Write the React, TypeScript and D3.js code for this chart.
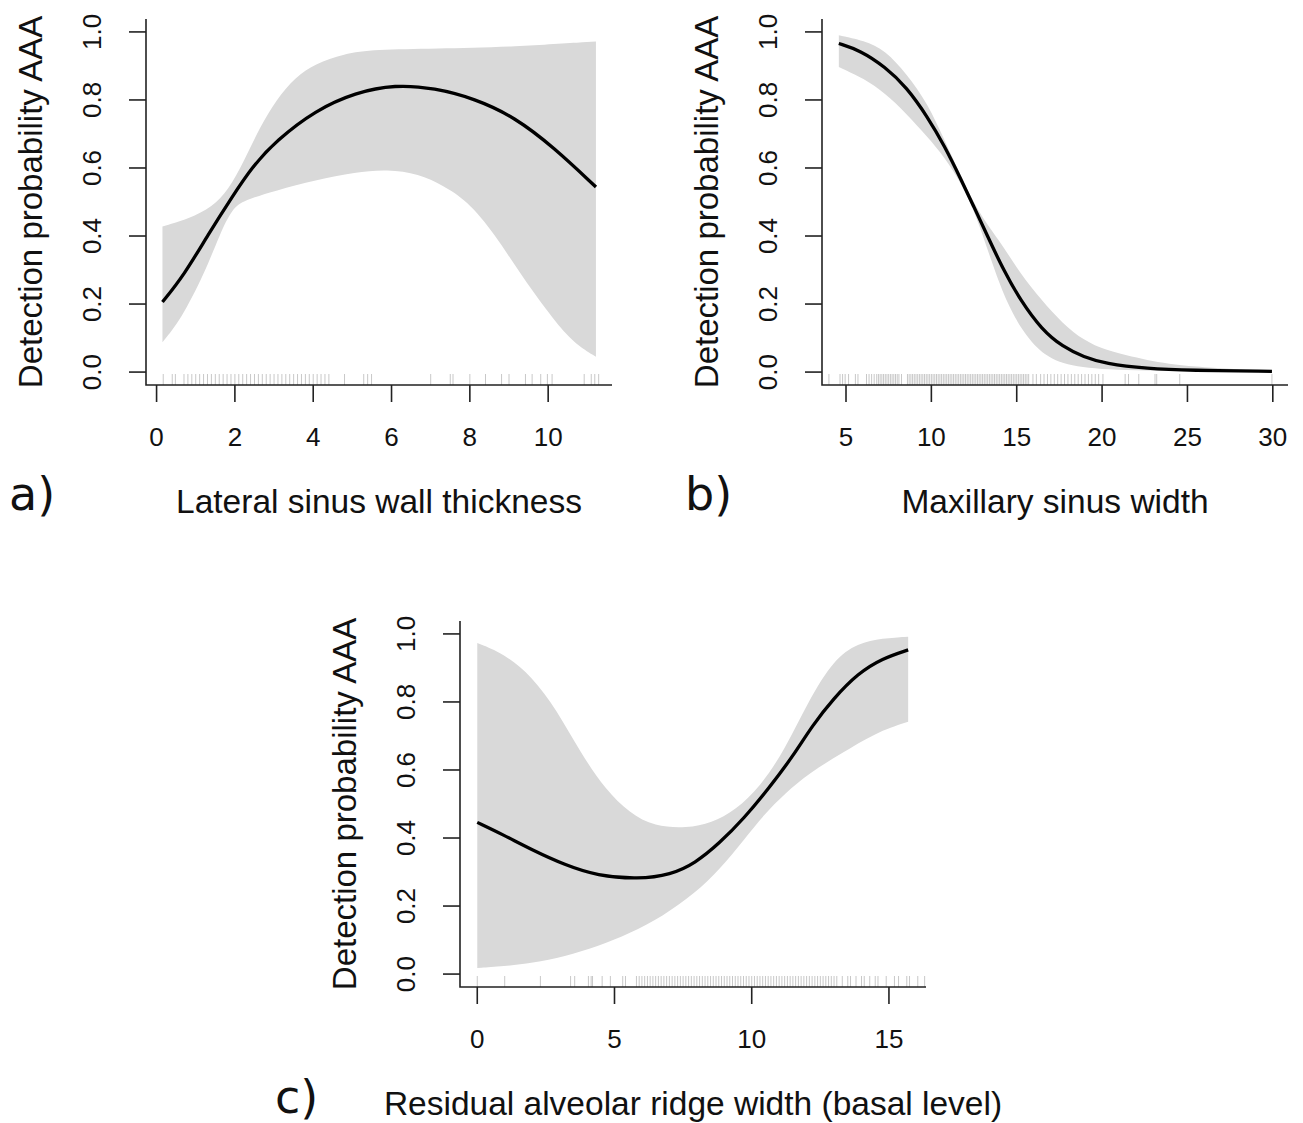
import React from 'react'
import * as d3 from 'd3'

// a) lateral sinus wall thickness  [x, probability]
const aFit = [[0.15, 0.206], [0.7, 0.285], [1.32, 0.405], [1.93, 0.515], [2.44, 0.603], [3.05, 0.68], [4.06, 0.77], [5.08, 0.822], [6.09, 0.845], [7.1, 0.835], [8.12, 0.804], [9.14, 0.75], [10.15, 0.66], [11.22, 0.544]]
const aUpper = [[0.15, 0.428], [0.81, 0.45], [1.42, 0.485], [1.83, 0.534], [2.23, 0.62], [2.64, 0.72], [3.05, 0.8], [3.55, 0.868], [4.06, 0.907], [4.77, 0.936], [5.58, 0.948], [7.1, 0.951], [9.14, 0.956], [11.22, 0.972]]
const aLower = [[0.15, 0.088], [0.61, 0.152], [1.22, 0.289], [1.62, 0.407], [1.93, 0.48], [2.23, 0.505], [3.05, 0.534], [4.06, 0.564], [5.08, 0.588], [5.89, 0.596], [6.7, 0.583], [7.31, 0.549], [7.92, 0.505], [8.63, 0.407], [9.34, 0.279], [10.15, 0.152], [10.66, 0.085], [11.22, 0.045]]
const aRug = [0.17, 0.4, 0.48, 0.7, 0.8, 0.9, 1.0, 1.1, 1.2, 1.3, 1.4, 1.5, 1.6, 1.7, 1.8, 1.9, 2.0, 2.1, 2.2, 2.3, 2.4, 2.5, 2.6, 2.7, 2.8, 2.9, 3.0, 3.1, 3.2, 3.3, 3.4, 3.5, 3.6, 3.7, 3.8, 3.9, 4.0, 4.1, 4.2, 4.3, 4.4, 4.8, 5.29, 5.39, 5.49, 7.0, 7.5, 7.57, 8.0, 8.4, 8.81, 9.0, 9.42, 9.59, 9.81, 9.98, 10.1, 10.92, 11.1, 11.19, 11.29]
const aTicks = [0, 2, 4, 6, 8, 10]

// b) maxillary sinus width
const bFit = [[4.58, 0.966], [5.82, 0.946], [7.3, 0.897], [8.54, 0.838], [9.78, 0.75], [10.77, 0.665], [11.76, 0.564], [12.5, 0.485], [13.24, 0.405], [14.23, 0.299], [15.22, 0.211], [16.46, 0.125], [17.7, 0.074], [18.94, 0.044], [20.17, 0.025], [22.65, 0.01], [25.12, 0.005], [29.95, 0.002]]
const bUpper = [[4.58, 0.99], [6.06, 0.975], [7.3, 0.946], [8.54, 0.877], [9.78, 0.79], [10.77, 0.681], [11.76, 0.574], [12.5, 0.495], [13.24, 0.436], [14.23, 0.368], [15.22, 0.289], [16.46, 0.211], [17.7, 0.142], [18.94, 0.093], [20.17, 0.064], [22.65, 0.034], [25.12, 0.015], [29.95, 0.003]]
const bLower = [[4.58, 0.897], [6.06, 0.863], [7.3, 0.819], [8.54, 0.76], [9.78, 0.691], [10.77, 0.632], [11.76, 0.554], [12.5, 0.475], [13.24, 0.368], [13.98, 0.26], [14.73, 0.172], [15.72, 0.093], [16.96, 0.034], [18.94, 0.01], [22.65, 0.003], [29.95, 0.002]]
const bRug = [4.0, 4.65, 4.8, 4.95, 5.15, 5.55, 5.7, 6.2, 6.35, 6.5, 6.65,
  6.8, 6.9, 7.0, 7.1, 7.2, 7.3, 7.4, 7.5, 7.6, 7.7, 7.8, 7.9, 8.0, 8.1, 8.25,
  8.6, 8.7, 8.8, 8.9, 9.0, 9.1, 9.2, 9.3, 9.4, 9.5, 9.6, 9.7, 9.8, 9.9,
  10.0, 10.1, 10.2, 10.3, 10.4, 10.5, 10.6, 10.7, 10.8, 10.9,
  11.0, 11.1, 11.2, 11.3, 11.4, 11.5, 11.6, 11.7, 11.8, 11.9,
  12.0, 12.1, 12.2, 12.3, 12.4, 12.5, 12.6, 12.7, 12.8, 12.9,
  13.0, 13.1, 13.2, 13.3, 13.4, 13.5, 13.6, 13.7, 13.8, 13.9,
  14.0, 14.1, 14.2, 14.3, 14.4, 14.5, 14.6, 14.7, 14.8, 14.9,
  15.0, 15.1, 15.2, 15.3, 15.4, 15.5, 15.6, 15.7, 15.95,
  16.15, 16.4, 16.6, 16.8, 17.0, 17.2, 17.4, 17.6, 17.8, 18.0, 18.2, 18.4, 18.6, 18.8, 19.0, 19.2, 19.4, 19.6, 19.8, 20.05,
  21.35, 21.55, 22.15, 23.1, 23.2, 24.55, 29.95]
const bTicks = [5, 10, 15, 20, 25, 30]

// c) residual alveolar ridge width (basal level)
const cFit = [[0, 0.446], [0.96, 0.409], [2.0, 0.365], [3.19, 0.321], [4.38, 0.289], [5.86, 0.279], [7.05, 0.292], [7.94, 0.326], [8.83, 0.385], [9.72, 0.458], [10.61, 0.545], [11.5, 0.64], [12.2, 0.73], [12.98, 0.81], [13.87, 0.884], [14.76, 0.928], [15.7, 0.953]]
const cUpper = [[0, 0.973], [0.96, 0.943], [2.0, 0.875], [2.89, 0.777], [3.78, 0.649], [4.67, 0.542], [5.56, 0.473], [6.45, 0.434], [7.64, 0.429], [8.53, 0.444], [9.42, 0.483], [10.31, 0.551], [11.2, 0.659], [12.09, 0.806], [12.98, 0.924], [13.87, 0.973], [14.76, 0.987], [15.7, 0.992]]
const cLower = [[0, 0.018], [0.96, 0.023], [2.0, 0.032], [3.19, 0.052], [4.38, 0.081], [5.56, 0.12], [6.75, 0.169], [7.94, 0.238], [8.83, 0.307], [9.72, 0.395], [10.46, 0.47], [11.2, 0.53], [12.09, 0.591], [13.28, 0.649], [14.47, 0.708], [15.7, 0.742]]
const cRug = [0.0, 1.0, 2.3, 3.4, 3.55, 4.05, 4.15, 4.2, 4.55, 4.85, 5.3, 5.4,
  5.8, 5.9, 6.0, 6.1, 6.2, 6.3, 6.4, 6.5, 6.6, 6.7, 6.8, 6.9,
  7.0, 7.1, 7.2, 7.3, 7.4, 7.5, 7.6, 7.7, 7.8, 7.9,
  8.0, 8.1, 8.2, 8.3, 8.4, 8.5, 8.6, 8.7, 8.8, 8.9,
  9.0, 9.1, 9.2, 9.3, 9.4, 9.5, 9.6, 9.7, 9.8, 9.9,
  10.0, 10.1, 10.2, 10.3, 10.4, 10.5, 10.6, 10.7, 10.8, 10.9,
  11.0, 11.1, 11.2, 11.3, 11.4, 11.5, 11.6, 11.7, 11.8, 11.9,
  12.0, 12.1, 12.2, 12.3, 12.4, 12.5, 12.6, 12.7, 12.8, 12.9, 13.0, 13.1,
  13.3, 13.5, 13.6, 13.8, 14.0, 14.1, 14.3, 14.5, 14.6, 14.9, 15.2, 15.35, 15.65, 15.75, 16.05, 16.3]
const cTicks = [0, 5, 10, 15]

const yTicks = [0, 0.2, 0.4, 0.6, 0.8, 1.0]
const yLabel = 'Detection probability AAA'

const W = 466
const H = 366
const font = '"Liberation Sans", Arial, sans-serif'

const panels = [
  { id: 'a', fit: aFit, upper: aUpper, lower: aLower, rug: aRug, ticks: aTicks, xlim: [-0.27, 11.63], xlab: 'Lateral sinus wall thickness', tag: 'a)', left: 146, top: 19, tagX: 9, tagY: 510 },
  { id: 'b', fit: bFit, upper: bUpper, lower: bLower, rug: bRug, ticks: bTicks, xlim: [3.594, 30.89], xlab: 'Maxillary sinus width', tag: 'b)', left: 822, top: 19, tagX: 685, tagY: 510 },
  { id: 'c', fit: cFit, upper: cUpper, lower: cLower, rug: cRug, ticks: cTicks, xlim: [-0.629, 16.35], xlab: 'Residual alveolar ridge width (basal level)', tag: 'c)', left: 460, top: 621, tagX: 275, tagY: 1113 },
]

const Panel = ({ p }: { p: any }) => {
  const x = d3.scaleLinear().domain(p.xlim).range([p.left, p.left + W])
  const bottom = p.top + H
  const y = d3.scaleLinear().domain([-0.038, 1.038]).range([bottom, p.top])
  const line = d3.line<number[]>().x(d => x(d[0])).y(d => y(d[1])).curve(d3.curveBasis)
  const up = line(p.upper) as string
  const lo = line(p.lower.slice().reverse()) as string
  const band = up + lo.replace(/^M/, 'L') + 'Z'
  const midY = (y(0) + y(1)) / 2

  return (
    <g>
      <path d={band} fill="#d9d9d9" stroke="none" />
      {p.rug.map((v: number, i: number) => (
        <line key={i} x1={x(v)} x2={x(v)} y1={bottom} y2={bottom - 11} stroke="#c8c8c8" strokeWidth={1} />
      ))}
      <path d={line(p.fit) as string} fill="none" stroke="#000" strokeWidth={3.3} />
      {/* L-shaped box */}
      <path d={`M${p.left},${p.top}V${bottom}H${p.left + W}`} fill="none" stroke="#222" strokeWidth={1.6} />
      {yTicks.map(t => (
        <g key={t}>
          <line x1={p.left - 17} x2={p.left} y1={y(t)} y2={y(t)} stroke="#222" strokeWidth={1.6} />
          <text transform={`translate(${p.left - 45},${y(t)}) rotate(-90)`} textAnchor="middle" fontSize={26} fontFamily={font} fill="#111">{t.toFixed(1)}</text>
        </g>
      ))}
      {p.ticks.map((t: number) => (
        <g key={t}>
          <line x1={x(t)} x2={x(t)} y1={bottom} y2={bottom + 17} stroke="#222" strokeWidth={1.6} />
          <text x={x(t)} y={bottom + 61} textAnchor="middle" fontSize={26} fontFamily={font} fill="#111">{t}</text>
        </g>
      ))}
      <text transform={`translate(${p.left - 104.5},${midY}) rotate(-90)`} textAnchor="middle" fontSize={33} fontFamily={font} fill="#111">{yLabel}</text>
      <text x={p.left + W / 2} y={bottom + 128} textAnchor="middle" fontSize={33.5} fontFamily={font} fill="#111">{p.xlab}</text>
      <text x={p.tagX} y={p.tagY} fontSize={46} fontFamily='"DejaVu Sans", Verdana, sans-serif' fill="#111">{p.tag}</text>
    </g>
  )
}

export default function App() {
  return (
    <svg width={1303} height={1123} style={{ position: 'absolute', left: 0, top: 0, background: '#fff' }}>
      <rect width={1303} height={1123} fill="#fff" />
      {panels.map(p => <Panel key={p.id} p={p} />)}
    </svg>
  )
}
